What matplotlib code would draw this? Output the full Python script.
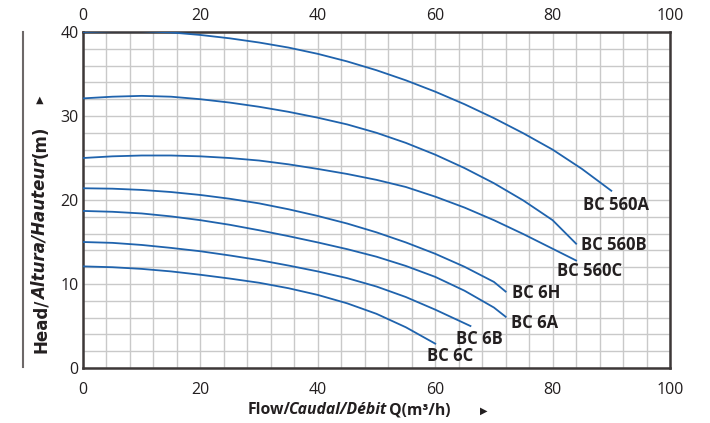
import matplotlib
matplotlib.use("Agg")
import matplotlib.pyplot as plt
from matplotlib.lines import Line2D
from matplotlib.ticker import MultipleLocator

# ── Pump curves: flow Q (m3/h) vs head H (m) ──

Q_560A = [0, 5, 10, 15, 20, 25, 30, 35, 40, 45, 50, 55, 60, 65, 70, 75, 80, 85, 90]
H_560A = [40.0, 40.1, 40.1, 39.95, 39.65, 39.25, 38.75, 38.15, 37.4, 36.5, 35.45, 34.25,
          32.9, 31.4, 29.75, 27.95, 26.0, 23.7, 21.1]

Q_560B = [0, 5, 10, 15, 20, 25, 30, 35, 40, 45, 50, 55, 60, 65, 70, 75, 80, 84]
H_560B = [32.1, 32.3, 32.4, 32.3, 32.0, 31.6, 31.1, 30.5, 29.8, 29.0, 28.0, 26.8,
          25.4, 23.8, 22.0, 19.95, 17.6, 14.8]

Q_560C = [0, 5, 10, 15, 20, 25, 30, 35, 40, 45, 50, 55, 60, 65, 70, 75, 80, 84]
H_560C = [25.0, 25.2, 25.3, 25.3, 25.2, 25.0, 24.7, 24.25, 23.7, 23.1, 22.4, 21.55,
          20.4, 19.1, 17.6, 15.95, 14.2, 12.8]

Q_6H = [0, 5, 10, 15, 20, 25, 30, 35, 40, 45, 50, 55, 60, 65, 70, 72]
H_6H = [21.4, 21.35, 21.2, 20.95, 20.6, 20.15, 19.6, 18.9, 18.1, 17.2, 16.15, 14.95,
        13.6, 12.05, 10.25, 9.1]

Q_6A = [0, 5, 10, 15, 20, 25, 30, 35, 40, 45, 50, 55, 60, 65, 70, 72]
H_6A = [18.7, 18.6, 18.4, 18.05, 17.6, 17.05, 16.4, 15.7, 14.95, 14.15, 13.25, 12.15,
        10.85, 9.2, 7.2, 6.1]

Q_6B = [0, 5, 10, 15, 20, 25, 30, 35, 40, 45, 50, 55, 60, 66]
H_6B = [15.0, 14.9, 14.65, 14.3, 13.9, 13.4, 12.85, 12.2, 11.5, 10.7, 9.7, 8.45, 6.95, 5.0]

Q_6C = [0, 5, 10, 15, 20, 25, 30, 35, 40, 45, 50, 55, 60]
H_6C = [12.1, 12.0, 11.8, 11.5, 11.1, 10.65, 10.15, 9.5, 8.7, 7.7, 6.45, 4.85, 2.9]

SERIES = [
    ("BC 560A", Q_560A, H_560A),
    ("BC 560B", Q_560B, H_560B),
    ("BC 560C", Q_560C, H_560C),
    ("BC 6H", Q_6H, H_6H),
    ("BC 6A", Q_6A, H_6A),
    ("BC 6B", Q_6B, H_6B),
    ("BC 6C", Q_6C, H_6C),
]

# label anchor (left edge, vertical centre) for each curve name
LABEL_POS = {
    "BC 560A": (85.2, 19.4),
    "BC 560B": (84.8, 14.6),
    "BC 560C": (80.7, 11.5),
    "BC 6H": (73.1, 8.9),
    "BC 6A": (72.9, 5.4),
    "BC 6B": (63.5, 3.5),
    "BC 6C": (58.6, 1.4),
}

X_TICKS = [0, 20, 40, 60, 80, 100]
Y_TICKS = [0, 10, 20, 30, 40]

CURVE = "#1f63ad"
SPINE = "#3d3838"
GRID = "#c9c9c9"
INK = "#231f20"
FONT = "Open Sans"


def main():
    fig = plt.figure(figsize=(7.10, 4.23), dpi=100)
    ax = fig.add_axes([0.1169, 0.130, 0.8268, 0.7943])

    for name, q, h in SERIES:
        ax.plot(q, h, color=CURVE, lw=1.3, solid_joinstyle="round", zorder=3)
        lx, ly = LABEL_POS[name]
        ax.text(lx, ly, name, family=FONT, fontweight="bold", fontsize=12,
                color=INK, ha="left", va="center", zorder=4)

    ax.set_xlim(0, 100)
    ax.set_ylim(0, 40)
    ax.set_xticks(X_TICKS)
    ax.set_yticks(Y_TICKS)
    ax.xaxis.set_minor_locator(MultipleLocator(4))
    ax.yaxis.set_minor_locator(MultipleLocator(2))
    ax.grid(which="both", color=GRID, lw=1.0, zorder=0)
    ax.set_axisbelow(True)

    ax.tick_params(which="both", length=0, labelsize=11.5, labelcolor=INK)
    ax.tick_params(axis="x", pad=10)
    ax.tick_params(axis="y", pad=3)
    for lab in ax.get_xticklabels() + ax.get_yticklabels():
        lab.set_family(FONT)

    # same scale repeated along the top edge
    top = ax.secondary_xaxis("top")
    top.set_xticks(X_TICKS)
    top.tick_params(length=0, pad=6, labelsize=11.5, labelcolor=INK)
    for lab in top.get_xticklabels():
        lab.set_family(FONT)
    top.spines["top"].set_visible(False)

    for sp in ax.spines.values():
        sp.set_color(SPINE)
        sp.set_linewidth(1.8)

    # ── x label: mixed upright / italic pieces, then an arrow ──
    base_y = 1 - 414 / 423
    parts = [("Flow/", "normal", 0), ("Caudal/Débit", "italic", -2.0), (" Q(m³/h)", "normal", -1.0)]
    prev = fig.text(248 / 710, base_y, parts[0][0], family=FONT, fontweight="bold",
                    style=parts[0][1], fontsize=11.3, ha="left", va="baseline", color=INK)
    for txt, st, off in parts[1:]:
        prev = fig.add_artist(plt.Annotation(
            txt, xy=(1.0, base_y), xycoords=(prev, "figure fraction"),
            xytext=(off, 0), textcoords="offset points",
            family=FONT, fontweight="bold", style=st, fontsize=11.3,
            ha="left", va="baseline", color=INK))
    fig.text(484 / 710, 1 - 411 / 423, "▶", fontsize=7, ha="center", va="center",
             color=INK, family="DejaVu Sans")

    # ── y label: rotated, built bottom-up ──
    base_x = 46 / 710
    yfont = ["DejaVu Sans"]
    yparts = [("Head/", "normal", 0), ("Altura/Hauteur", "italic", -1), ("(m)", "normal", 1)]
    prev = fig.text(base_x, 1 - 353 / 423, yparts[0][0], family=yfont, fontweight="bold",
                    style=yparts[0][1], fontsize=12, rotation=90, rotation_mode="anchor",
                    ha="left", va="baseline", color=INK)
    for txt, st, off in yparts[1:]:
        prev = fig.add_artist(plt.Annotation(
            txt, xy=(base_x, 1.0), xycoords=("figure fraction", prev),
            xytext=(0, off), textcoords="offset points",
            family=yfont, fontweight="bold", style=st, fontsize=12, rotation=90,
            rotation_mode="anchor", ha="left", va="baseline", color=INK))
    fig.text(40 / 710, 1 - 100 / 423, "▲", fontsize=7, ha="center", va="center",
             color=INK, family="DejaVu Sans")

    # thin rule left of the y label
    fig.add_artist(Line2D([23 / 710, 23 / 710], [1 - 367 / 423, 1 - 32 / 423],
                          transform=fig.transFigure, color="#6d6868", lw=1.5))

    fig.savefig("out.png", dpi=100)
    plt.close(fig)


if __name__ == "__main__":
    main()
